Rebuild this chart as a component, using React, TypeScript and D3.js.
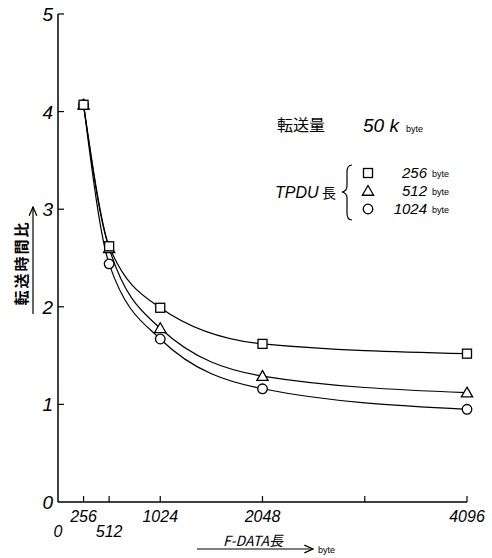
import React from "react";
import * as d3 from "d3";

const xValues = [256, 512, 1024, 2048, 4096];
const series256 = [4.07, 2.62, 1.99, 1.62, 1.52];
const series512 = [4.07, 2.6, 1.78, 1.29, 1.12];
const series1024 = [4.07, 2.44, 1.67, 1.16, 0.95];
const seriesNames = ["256", "512", "1024"];
const seriesShapes = ["square", "triangle", "circle"];
const xTickValues = [0, 256, 512, 1024, 2048, 3072, 4096];
const xTickLabels = ["0", "256", "512", "1024", "2048", "", "4096"];
const yTickValues = [0, 1, 2, 3, 4, 5];

const W = 492;
const H = 558;
const FONT = "'Liberation Sans', 'DejaVu Sans', sans-serif";
const CJK = "'Noto Sans CJK JP', sans-serif";

function Marker({ shape, cx, cy }: { shape: string; cx: number; cy: number }) {
  if (shape === "square")
    return <rect x={cx - 4.5} y={cy - 4.5} width={9} height={9} fill="#fff" stroke="#000" strokeWidth={1.3} />;
  if (shape === "triangle") {
    const p = d3.symbol(d3.symbolTriangle, 55)();
    return <path d={p || ""} transform={`translate(${cx},${cy + 1})`} fill="#fff" stroke="#000" strokeWidth={1.3} />;
  }
  return <circle cx={cx} cy={cy} r={4.8} fill="#fff" stroke="#000" strokeWidth={1.3} />;
}

export default function App() {
  const x = d3.scaleLinear().domain([0, 4096]).range([58, 467]);
  const y = d3.scaleLinear().domain([0, 5]).range([502, 14]);
  const allSeries = [series256, series512, series1024];
  const line = d3
    .line<number>()
    .x((_, i) => x(xValues[i]))
    .y((d) => y(d))
    .curve(d3.curveMonotoneX);
  const lowerRow = new Set([0, 512]);
  const numStyle = { fontFamily: FONT, fontStyle: "italic" } as const;

  return (
    <svg width={W} height={H} style={{ position: "absolute", left: 0, top: 0, background: "#fff" }}>
      <defs>
        <marker id="arr" viewBox="0 0 10 10" refX="9" refY="5" markerWidth="8" markerHeight="8" orient="auto-start-reverse">
          <path d="M0,1 L9,5 L0,9" fill="none" stroke="#000" strokeWidth={1.3} />
        </marker>
      </defs>
      {/* axes */}
      <line x1={x(0)} x2={x(0)} y1={y(0)} y2={y(5)} stroke="#000" strokeWidth={1.5} />
      <line x1={x(0)} x2={x(4096)} y1={y(0)} y2={y(0)} stroke="#000" strokeWidth={1.5} />
      {yTickValues.map((v) => (
        <g key={"y" + v}>
          {v > 0 && <line x1={x(0)} x2={x(0) + 6} y1={y(v)} y2={y(v)} stroke="#000" strokeWidth={1.2} />}
          <text x={x(0) - 5} y={y(v) + 7} textAnchor="end" style={numStyle} fontSize={19}>
            {v}
          </text>
        </g>
      ))}
      {xTickValues.map((v, i) => (
        <g key={"x" + v}>
          {v > 0 && <line x1={x(v)} x2={x(v)} y1={y(0)} y2={y(0) - 6} stroke="#000" strokeWidth={1.2} />}
          <text x={x(v)} y={lowerRow.has(v) ? 537 : 522} textAnchor="middle" style={numStyle} fontSize={16}>
            {xTickLabels[i]}
          </text>
        </g>
      ))}
      {/* x label */}
      <text x={253} y={546} textAnchor="middle" fontFamily={CJK} fontStyle="italic" fontSize={14}>
        F-DATA長
      </text>
      <line x1={197} x2={313} y1={549} y2={549} stroke="#000" strokeWidth={1.2} markerEnd="url(#arr)" />
      <text x={318} y={553} fontFamily={FONT} fontSize={9}>byte</text>
      {/* y label */}
      <text
        transform={`translate(27,263) rotate(-90)`}
        textAnchor="middle"
        fontFamily={CJK}
        fontWeight={700}
        fontSize={15}
        letterSpacing={2}
      >
        転送時間比
      </text>
      <line x1={33} x2={33} y1={314} y2={207} stroke="#000" strokeWidth={1.2} markerEnd="url(#arr)" />
      {/* curves */}
      {allSeries.map((s, k) => (
        <path key={"l" + k} d={line(s) || ""} fill="none" stroke="#000" strokeWidth={1.2} />
      ))}
      {[1, 2, 0].map((k) =>
        allSeries[k].map((v, i) => <Marker key={`m${k}-${i}`} shape={seriesShapes[k]} cx={x(xValues[i])} cy={y(v)} />)
      )}
      {/* header */}
      <text x={277} y={131} fontFamily={CJK} fontSize={16}>転送量</text>
      <text x={363} y={132} style={numStyle} fontSize={19}>50 k</text>
      <text x={406} y={132} fontFamily={FONT} fontSize={9}>byte</text>
      {/* legend */}
      <text x={275} y={198} style={numStyle} fontSize={16}>TPDU</text>
      <text x={322} y={198} fontFamily={CJK} fontSize={14}>長</text>
      <path
        d="M352,165 Q347,165 347,172 L347,186 Q347,191 342,192 Q347,193 347,198 L347,213 Q347,220 352,220"
        fill="none"
        stroke="#000"
        strokeWidth={1.2}
      />
      {seriesNames.map((n, k) => {
        const ly = 173 + k * 18;
        return (
          <g key={"lg" + n}>
            <Marker shape={seriesShapes[k]} cx={368} cy={ly} />
            <text x={427} y={ly + 5} textAnchor="end" style={numStyle} fontSize={15}>
              {n}
            </text>
            <text x={432} y={ly + 4} fontFamily={FONT} fontSize={9}>byte</text>
          </g>
        );
      })}
    </svg>
  );
}
